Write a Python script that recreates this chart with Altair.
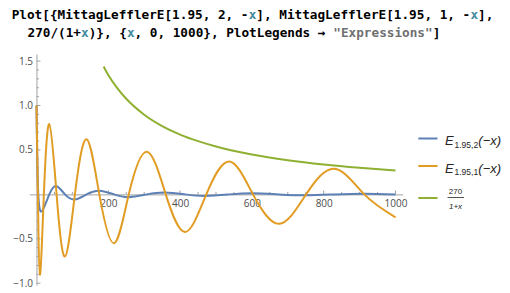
import altair as alt
import pandas as pd

# ---------------- data ----------------
series_names = ["E_{1.95,2}(-x)", "E_{1.95,1}(-x)", "270/(1+x)"]
series_colors = ["#5E81B5", "#E19C24", "#8FB032"]

# E_{1.95,1}(-x): extrema and zero crossings
orange_x = [0, 4, 9.5, 20.6, 35.7, 56, 79.3, 107, 139.5, 175, 216, 257, 307.5,
            360, 414.5, 473, 537, 603, 676, 751, 830, 913, 1000]
orange_y = [1.0, 0.0, -0.905, 0.0, 0.79, 0.0, -0.70, 0.0, 0.62, 0.0, -0.55, 0.0,
            0.48, 0.0, -0.423, 0.0, 0.37, 0.0, -0.331, 0.0, 0.288, 0.0, -0.258]

# E_{1.95,2}(-x)
blue_x = [0, 5, 17, 35.7, 55, 79.3, 106, 139.5, 175, 216, 256, 307.5, 357,
          414.5, 470, 537, 600, 676, 750, 830, 913, 1000]
blue_y = [1.0, 0.0, -0.178, 0.0, 0.094, 0.0, -0.057, 0.0, 0.041, 0.0, -0.031, 0.0,
          0.022, 0.0, -0.017, 0.0, 0.013, 0.0, -0.010, 0.0, 0.008, 0.0]

# 270/(1+x), clipped at the top of the plot range
green_x = [187, 200, 225, 250, 300, 350, 400, 450, 500, 600, 700, 800, 900, 1000]
green_y = [1.44, 1.343, 1.195, 1.076, 0.897, 0.769, 0.673, 0.599, 0.539, 0.449,
           0.385, 0.337, 0.300, 0.270]

x_major = [200, 400, 600, 800, 1000]
x_minor = [50, 100, 150, 250, 300, 350, 450, 500, 550, 650, 700, 750, 850, 900, 950]
y_major = [-1.0, -0.5, 0.5, 1.0, 1.5]
y_minor = [-0.9, -0.8, -0.7, -0.6, -0.4, -0.3, -0.2, -0.1, 0.1, 0.2, 0.3, 0.4,
           0.6, 0.7, 0.8, 0.9, 1.1, 1.2, 1.3, 1.4]

header_line1 = [("Plot[{MittagLefflerE[1.95, 2, -", "k"), ("x", "v"),
                ("], MittagLefflerE[1.95, 1, -", "k"), ("x", "v"), ("],", "k")]
header_line2 = [("270/(1+", "k"), ("x", "v"), (")}, {", "k"), ("x", "v"),
                (", 0, 1000}, PlotLegends \u2192 ", "k"), ("\"Expressions\"", "s"), ("]", "k")]

# ---------------- build tables ----------------
rows = []
for name, xs_, ys_ in zip(series_names, [blue_x, orange_x, green_x], [blue_y, orange_y, green_y]):
    for a, b in zip(xs_, ys_):
        rows.append({"series": name, "x": a, "y": b})
df = pd.DataFrame(rows)
one = pd.DataFrame({"k": [0]})

# ---------------- layout ----------------
W, H = 373.4, 231
PAD = {"left": 21.3, "top": 46, "right": 99.3, "bottom": 4}
X_DOM = [-20, 1020]
Y_DOM = [-1.02, 1.58]
AX = "#a3a3a3"
LC = "#4d4d4d"
LABEL_FONT = "Open Sans"

x_off = (0 - Y_DOM[0]) / (Y_DOM[1] - Y_DOM[0]) * H
y_off = (0 - X_DOM[0]) / (X_DOM[1] - X_DOM[0]) * W

xs = alt.Scale(domain=X_DOM, nice=False, zero=False)
ys = alt.Scale(domain=Y_DOM, nice=False, zero=False)

x_axis = alt.Axis(values=x_major, format="d", title=None, ticks=False, tickSize=0,
                  domainColor=AX, domainWidth=1, labelColor=LC, labelFont=LABEL_FONT,
                  labelFontSize=10, labelPadding=4, offset=-x_off, grid=False,
                  labelFlush=False, labelOverlap=False)
y_axis = alt.Axis(values=y_major, format=".1f", title=None, ticks=False, tickSize=0,
                  domainColor=AX, domainWidth=1, labelColor=LC, labelFont=LABEL_FONT,
                  labelFontSize=10, labelPadding=4, offset=-y_off, grid=False,
                  labelFlush=False, labelOverlap=False)


def X(field):
    return alt.X(field, type="quantitative", scale=xs, axis=x_axis)


def Y(field):
    return alt.Y(field, type="quantitative", scale=ys, axis=y_axis)


color = alt.Color("series:N", scale=alt.Scale(domain=series_names, range=series_colors), legend=None)

layers = []

# tick marks (pointing into the plot, as in the original)
for vals, length in [(x_major, 4), (x_minor, 2.5)]:
    t = pd.DataFrame({"t": vals, "z": [0] * len(vals)})
    layers.append(alt.Chart(t).mark_rule(color=AX, strokeWidth=1, y2Offset=-length)
                  .encode(x=X("t"), y=Y("z"), y2="z"))
for vals, length in [(y_major, 4), (y_minor, 2.5)]:
    t = pd.DataFrame({"t": vals, "z": [0] * len(vals)})
    layers.append(alt.Chart(t).mark_rule(color=AX, strokeWidth=1, x2Offset=length)
                  .encode(y=Y("t"), x=X("z"), x2="z"))

# curves
for name, interp in zip(series_names, ["natural", "natural", "monotone"]):
    layers.append(alt.Chart(df).transform_filter(alt.datum.series == name)
                  .mark_line(interpolate=interp, strokeWidth=2, clip=True)
                  .encode(x=X("x"), y=Y("y"), color=color))

# header (input code), one text per coloured segment on a monospace grid
HCOL = {"k": "#000000", "v": "#438b9e", "s": "#707070"}
HFS = 12.7
CW = 0.602 * HFS
for segs, hx, hy in [(header_line1, -17.6, -34.6), (header_line2, -1.8, -17.2)]:
    pos = 0
    for txt, key in segs:
        layers.append(alt.Chart(one).mark_text(align="left", baseline="alphabetic",
                                               font="DejaVu Sans Mono", fontWeight="bold",
                                               fontSize=HFS, color=HCOL[key])
                      .encode(x=alt.value(hx + pos * CW), y=alt.value(hy), text=alt.value(txt)))
        pos += len(txt)

# legend
LEG_T = "#262626"
LFONT = "Liberation Sans"
sw_y = [84.5, 112, 144]
for c, yy in zip(series_colors, sw_y):
    layers.append(alt.Chart(one).mark_rule(color=c, strokeWidth=2)
                  .encode(x=alt.value(389), x2=alt.value(408.2), y=alt.value(yy)))
for sub, base in [("1.95,2", 91), ("1.95,1", 118.5)]:
    layers.append(alt.Chart(one).mark_text(align="left", baseline="alphabetic", font=LFONT,
                                           fontStyle="italic", fontSize=13, color=LEG_T)
                  .encode(x=alt.value(415.7), y=alt.value(base), text=alt.value("E")))
    layers.append(alt.Chart(one).mark_text(align="left", baseline="alphabetic", font=LFONT,
                                           fontSize=8.5, color=LEG_T)
                  .encode(x=alt.value(425.2), y=alt.value(base + 2.5), text=alt.value(sub)))
    layers.append(alt.Chart(one).mark_text(align="left", baseline="alphabetic", font=LFONT,
                                           fontStyle="italic", fontSize=13, color=LEG_T)
                  .encode(x=alt.value(449), y=alt.value(base), text=alt.value("(\u2212x)")))
layers.append(alt.Chart(one).mark_text(align="center", baseline="alphabetic", font=LFONT,
                                       fontSize=8, color=LEG_T)
              .encode(x=alt.value(426.2), y=alt.value(139.8), text=alt.value("270")))
layers.append(alt.Chart(one).mark_rule(color=LEG_T, strokeWidth=0.8)
              .encode(x=alt.value(418.2), x2=alt.value(434.7), y=alt.value(143.5)))
layers.append(alt.Chart(one).mark_text(align="center", baseline="alphabetic", font=LFONT,
                                       fontSize=8, fontStyle="italic", color=LEG_T)
              .encode(x=alt.value(426.2), y=alt.value(155), text=alt.value("1+x")))

chart = (alt.layer(*layers)
         .properties(width=W, height=H, padding=PAD, autosize=alt.AutoSizeParams(type="none"),
                     background="white")
         .configure_view(stroke=None))

chart.save("out.html", embed_options={"renderer": "svg", "actions": False})
